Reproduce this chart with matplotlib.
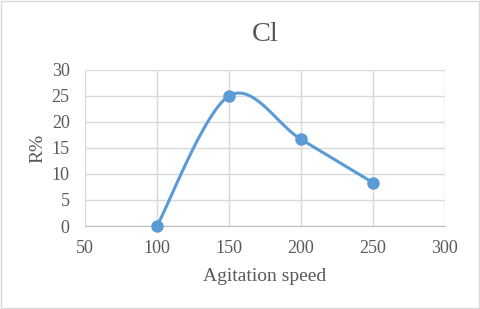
import numpy as np
import matplotlib
matplotlib.use('Agg')
import matplotlib.pyplot as plt
from matplotlib.patches import Rectangle

speed = [100, 150, 200, 250]
recovery = [0, 25, 16.67, 8.33]
xticks = [50, 100, 150, 200, 250, 300]
yticks = [0, 5, 10, 15, 20, 25, 30]

plt.rcParams['font.family'] = ['Liberation Serif', 'DejaVu Serif']


def smooth(xs, ys, n=40):
    # excel style smoothed line: cubic bezier with catmull-rom control points
    px = [xs[0]] + list(xs) + [xs[-1]]
    py = [ys[0]] + list(ys) + [ys[-1]]
    outx, outy = [], []
    t = np.linspace(0, 1, n)
    for i in range(1, len(px) - 2):
        p0 = np.array([px[i], py[i]])
        p3 = np.array([px[i + 1], py[i + 1]])
        c1 = p0 + (np.array([px[i + 1], py[i + 1]]) - np.array([px[i - 1], py[i - 1]])) / 6
        c2 = p3 - (np.array([px[i + 2], py[i + 2]]) - np.array([px[i], py[i]])) / 6
        b = ((1 - t) ** 3)[:, None] * p0 + (3 * (1 - t) ** 2 * t)[:, None] * c1 \
            + (3 * (1 - t) * t ** 2)[:, None] * c2 + (t ** 3)[:, None] * p3
        outx.extend(b[:, 0])
        outy.extend(b[:, 1])
    return outx, outy


fig = plt.figure(figsize=(4.8, 3.09), dpi=100)
fig.patches.append(Rectangle((0.002, 0.003), 0.996, 0.994, transform=fig.transFigure,
                             fill=False, edgecolor='#D9D9D9', linewidth=1))
ax = fig.add_axes([0.177, 0.2686, 0.75, 0.505])

sx, sy = smooth(speed, recovery)
ax.plot(sx, sy, color='#5B9BD5', linewidth=2.2, zorder=3, solid_capstyle='round')
ax.plot(speed, recovery, 'o', color='#5B9BD5', markersize=8, zorder=4, clip_on=False)

ax.set_xlim(50, 300)
ax.set_ylim(0, 30)
ax.set_xticks(xticks)
ax.set_yticks(yticks)
ax.grid(True, color='#D9D9D9', linewidth=1)
ax.set_axisbelow(True)
for s in ['top', 'right', 'left']:
    ax.spines[s].set_visible(False)
ax.spines['bottom'].set_color('#BFBFBF')
ax.tick_params(length=0, labelsize=13, colors='#595959')
ax.tick_params(axis='x', pad=10)
ax.tick_params(axis='y', pad=11)

ax.set_title('Cl', fontsize=20.5, color='#595959', pad=21)
ax.set_xlabel('Agitation speed', fontsize=14, color='#595959', labelpad=8)
ax.set_ylabel('R%', fontsize=14, color='#595959', labelpad=4)

fig.savefig('out.png', dpi=100)
